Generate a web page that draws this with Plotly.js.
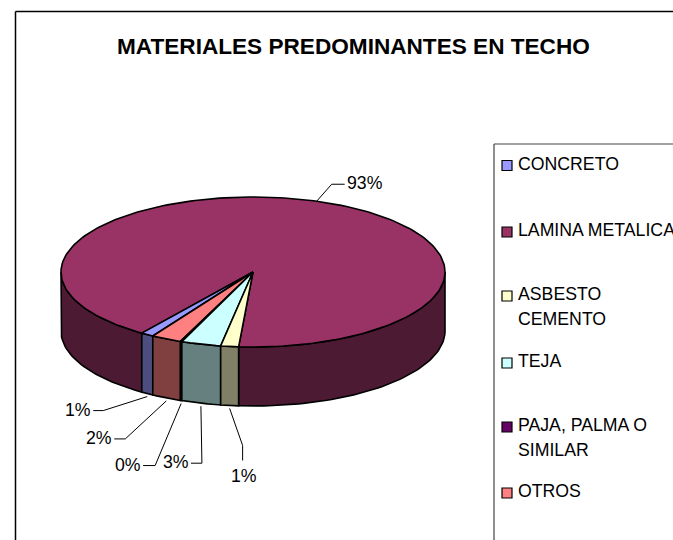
<!DOCTYPE html>
<html>
<head>
<meta charset="utf-8">
<script src="https://cdn.plot.ly/plotly-3.0.1.min.js"></script>
<style>html,body{margin:0;padding:0;background:#fff;overflow:hidden}#chart{width:673px;height:540px}</style>
</head>
<body>
<div id="chart"></div>
<script>
// ---- data ----
const titleText = 'MATERIALES PREDOMINANTES EN TECHO';
const categories = ['CONCRETO', 'LAMINA METALICA', 'ASBESTO<br>CEMENTO', 'TEJA', 'PAJA, PALMA O<br>SIMILAR', 'OTROS'];
const values = [0.9, 93.0, 1.2, 2.7, 0.1, 2.1];
const topColors = ['#9999ff', '#993366', '#ffffcc', '#ccffff', '#660066', '#ff8080'];
const sideColors = ['#4d4d80', '#4d1a33', '#808066', '#668080', '#330033', '#804040'];

// ---- drawing geometry of the tilted pie ----
const CX = 253, CY = 272, RX = 192, RY = 75, DEPTH = 59;
const FIRST_ANGLE = 25.4;   // where the first slice starts, degrees, clockwise from the front
const FRONT_STRETCH = 1.25; // perspective magnification at the front of the pie
const rad = Math.PI / 180;
const warp = t => 2 * Math.atan2(FRONT_STRETCH * Math.sin(t * rad / 2), Math.cos(t * rad / 2)) / rad;
const px = p => CX - RX * Math.sin(p * rad);
const py = (p, d) => CY + RY * Math.cos(p * rad) + (d || 0);

const total = values.reduce((a, b) => a + b, 0);
let running = FIRST_ANGLE;
const slices = values.map(v => {
  const a = running, b = running + v / total * 360;
  running = b;
  let pa = warp(a), pb = warp(b);
  while (pa < 0) pa += 360;
  while (pb < pa) pb += 360;
  return {a, b, pa, pb};
});
function arc(p0, p1) {
  const n = Math.max(2, Math.ceil(Math.abs(p1 - p0) / 1.5));
  const out = [];
  for (let i = 0; i <= n; i++) out.push(p0 + (p1 - p0) * i / n);
  return out;
}
const base = {type: 'scatter', mode: 'lines', fill: 'toself', hoverinfo: 'skip', showlegend: false};
const outline = {color: '#000', width: 1.6};
const traces = [];
function wall(p0, p1, color) {
  const lo = Math.max(p0, -90), hi = Math.min(p1, 90);
  [[lo, hi], [Math.max(p0, 270), Math.min(p1, 450)]].forEach(([s, e]) => {
    if (e <= s) return;
    const ps = arc(s, e), back = ps.slice().reverse();
    traces.push(Object.assign({}, base, {
      x: ps.map(p => px(p)).concat(back.map(p => px(p)), [px(s)]),
      y: ps.map(p => py(p)).concat(back.map(p => py(p, DEPTH)), [py(s)]),
      fillcolor: color, line: outline
    }));
  });
}
// walls behind tops; the big slice first so the narrow ones stay on top
[1, 0, 5, 4, 3, 2].forEach(i => wall(slices[i].pa, slices[i].pb, sideColors[i]));
[1, 0, 5, 4, 3, 2].forEach(i => {
  const ps = arc(slices[i].pa, slices[i].pb);
  traces.push(Object.assign({}, base, {
    x: [CX].concat(ps.map(p => px(p)), [CX]),
    y: [CY].concat(ps.map(p => py(p)), [CY]),
    fillcolor: topColors[i], line: outline
  }));
});

// ---- percentage labels with leader lines ----
// per slice: where along the slice the leader starts, whether on the wall foot, knee and label offset
const leaderLayout = [
  {f: 0.5,   foot: true,  knee: [-44, 14], end: [-54, 14], lab: [-69, 13]},
  {f: 0.524, foot: false, knee: [15, -17], end: [28, -17], lab: [48, -18]},
  {f: 0.5,   foot: true,  knee: [13, 37],  end: [13, 52],  lab: [14, 68]},
  {f: 0.5,   foot: true,  knee: [1, 57],   end: [-10, 57], lab: [-25, 56]},
  {f: 0.5,   foot: true,  knee: [-26, 62], end: [-38, 62], lab: [-53, 61]},
  {f: 0.5,   foot: true,  knee: [-41, 38], end: [-52, 38], lab: [-67, 37]}
];
const annotations = [];
const textFont = {family: 'Liberation Sans, Arial, sans-serif', size: 17.7, color: '#000'};
slices.forEach((s, i) => {
  const L = leaderLayout[i];
  const t = s.a + (s.b - s.a) * L.f;
  let p = warp(t);
  const x0 = px(p), y0 = py(p, L.foot ? DEPTH + 3 : 0);
  traces.push({type: 'scatter', mode: 'lines', hoverinfo: 'skip', showlegend: false,
    x: [x0, x0 + L.knee[0], x0 + L.end[0]], y: [y0, y0 + L.knee[1], y0 + L.end[1]],
    line: {color: '#000', width: 1}});
  annotations.push({x: x0 + L.lab[0], y: y0 + L.lab[1], xref: 'x', yref: 'y', showarrow: false,
    text: Math.round(values[i]) + '%', font: textFont, xanchor: 'center', yanchor: 'middle'});
});

// ---- legend panel ----
const legendRows = [165.5, 232, 296, 363, 427, 493];
const LEGEND_LINE = 25;
traces.push({type: 'scatter', mode: 'markers', hoverinfo: 'skip', showlegend: false,
  x: categories.map(() => 507), y: legendRows,
  marker: {symbol: 'square', size: 10, color: topColors, line: {color: '#000', width: 1.2}}});
categories.forEach((c, i) => {
  c.split('<br>').forEach((line, k) => {
    annotations.push({x: 518, y: legendRows[i] - 2 + k * LEGEND_LINE, xref: 'x', yref: 'y', showarrow: false,
      text: line, font: textFont, xanchor: 'left', yanchor: 'middle', xshift: -2});
  });
});
annotations.push({x: 353, y: 46, xref: 'x', yref: 'y', showarrow: false, text: '<b>' + titleText + '</b>',
  font: {family: 'Liberation Sans, Arial, sans-serif', size: 22.6, color: '#000'}, xanchor: 'center', yanchor: 'middle'});

const layout = {
  width: 673, height: 540, margin: {l: 0, r: 0, t: 0, b: 0},
  paper_bgcolor: '#fff', plot_bgcolor: '#fff', showlegend: false,
  xaxis: {range: [0, 673], visible: false, fixedrange: true},
  yaxis: {range: [540, 0], visible: false, fixedrange: true},
  annotations,
  shapes: [
    {type: 'line', xref: 'x', yref: 'y', x0: 15.5, x1: 15.5, y0: 11.5, y1: 540, line: {color: '#000', width: 1.5}},
    {type: 'line', xref: 'x', yref: 'y', x0: 15.5, x1: 673, y0: 11.5, y1: 11.5, line: {color: '#000', width: 1.5}},
    {type: 'line', xref: 'x', yref: 'y', x0: 494, x1: 494, y0: 144, y1: 540, line: {color: '#444', width: 1.2}},
    {type: 'line', xref: 'x', yref: 'y', x0: 494, x1: 673, y0: 144, y1: 144, line: {color: '#444', width: 1.2}}
  ]
};
Plotly.newPlot('chart', traces, layout, {staticPlot: true, displayModeBar: false});
</script>
</body>
</html>
